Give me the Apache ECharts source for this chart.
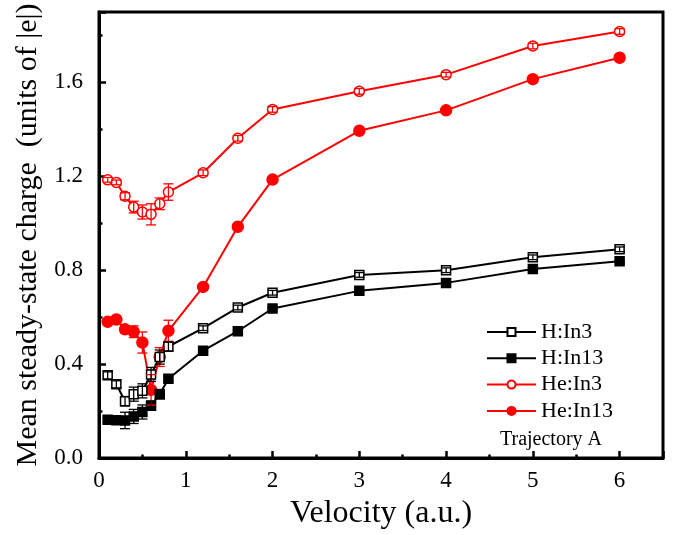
<!DOCTYPE html>
<html><head><meta charset="utf-8">
<script src="https://cdn.jsdelivr.net/npm/echarts@6/dist/echarts.min.js"></script>
<style>html,body{margin:0;padding:0;background:#fff}#c{width:675px;height:535px}</style>
</head><body><div id="c"></div>
<script>
const velocity = [0.1,0.2,0.3,0.4,0.5,0.6,0.7,0.8,1.2,1.6,2,3,4,5,6];
const hIn3     = [0.352,0.314,0.242,0.272,0.286,0.356,0.430,0.475,0.553,0.641,0.704,0.780,0.800,0.855,0.889];
const hIn3Err  = [0.015,0.015,0.020,0.030,0.030,0.030,0.030,0.020,0.010,0.010,0.010,0.010,0.010,0.010,0.010];
const hIn13    = [0.163,0.161,0.160,0.177,0.196,0.223,0.272,0.338,0.457,0.540,0.637,0.712,0.746,0.805,0.838];
const hIn13Err = [0.010,0.010,0.035,0.030,0.030,0.020,0.020,0.010,0.005,0.005,0.005,0.005,0.005,0.005,0.005];
const heIn3    = [1.185,1.174,1.115,1.069,1.048,1.038,1.083,1.133,1.215,1.362,1.485,1.562,1.633,1.755,1.817];
const heIn3Err = [0.010,0.010,0.015,0.025,0.030,0.045,0.025,0.035,0.012,0.012,0.012,0.012,0.010,0.012,0.012];
const heIn13   = [0.580,0.590,0.548,0.538,0.492,0.290,0.430,0.542,0.729,0.985,1.186,1.394,1.481,1.614,1.705];
const heIn13Err= [0.010,0.010,0.015,0.025,0.045,0.065,0.040,0.045,0.010,0.010,0.010,0.010,0.010,0.010,0.010];
const xTicks = [0,1,2,3,4,5,6];
const yTicks = [0.0,0.4,0.8,1.2,1.6];

const FONT = 'Liberation Serif';
const chart = echarts.init(document.getElementById('c'));

function pts(ys){ return velocity.map((v,i)=>[v, ys[i]]); }
function errData(ys, es){ return velocity.map((v,i)=>[v, ys[i]-es[i], ys[i]+es[i]]); }
function errSeries(ys, es, color){
  return {
    type:'custom', z:5, silent:true, data: errData(ys, es),
    renderItem: function(params, api){
      const lo = api.coord([api.value(0), api.value(1)]);
      const hi = api.coord([api.value(0), api.value(2)]);
      const w = 5;
      const st = {stroke:color, lineWidth:1.3};
      return {type:'group', children:[
        {type:'line', shape:{x1:lo[0], y1:lo[1], x2:hi[0], y2:hi[1]}, style:st},
        {type:'line', shape:{x1:lo[0]-w, y1:lo[1], x2:lo[0]+w, y2:lo[1]}, style:st},
        {type:'line', shape:{x1:hi[0]-w, y1:hi[1], x2:hi[0]+w, y2:hi[1]}, style:st}
      ]};
    }
  };
}
function lineSeries(name, ys, color, symbol, filled, size){
  return {
    name, type:'line', data: pts(ys), symbol, symbolSize:size, z:3,
    lineStyle:{color, width:2},
    itemStyle:{color: filled ? color : '#fff', borderColor: color, borderWidth:1.5, opacity:1},
    emphasis:{disabled:true}, animation:false
  };
}

const baseAxisLabel = {fontFamily:FONT, fontSize:23, color:'#000'};
const option = {
  animation:false,
  grid:{left:99, right:12, top:12, bottom:70, show:true, borderColor:'#000', borderWidth:3, backgroundColor:'transparent'},
  xAxis:[
    {type:'value', min:0, max:6.5, interval:1, position:'bottom',
     name:'Velocity (a.u.)', nameLocation:'middle', nameGap:40,
     nameTextStyle:{fontFamily:FONT, fontSize:32, color:'#000'},
     axisLine:{show:true, lineStyle:{color:'#000', width:3}},
     axisTick:{show:true, inside:true, length:7, lineStyle:{color:'#000', width:2.5}},
     axisLabel:Object.assign({margin:11, formatter:v=> xTicks.includes(v) ? String(v) : ''}, baseAxisLabel),
     splitLine:{show:false}},
    {type:'value', min:0, max:6.5, interval:0.5, position:'bottom', gridIndex:0,
     axisLine:{show:false}, axisLabel:{show:false}, splitLine:{show:false},
     axisTick:{show:true, inside:true, length:3.5, lineStyle:{color:'#000', width:2.5}}}
  ],
  yAxis:[
    {type:'value', min:0, max:1.9, interval:0.4, position:'left',
     name:'Mean steady-state charge  (units of |e|)', nameLocation:'middle', nameGap:56,
     nameTextStyle:{fontFamily:FONT, fontSize:30, color:'#000'},
     axisLine:{show:true, lineStyle:{color:'#000', width:3}},
     axisTick:{show:true, inside:true, length:7, lineStyle:{color:'#000', width:2.5}},
     axisLabel:Object.assign({margin:16, formatter:v=> yTicks.some(t=>Math.abs(t-v)<1e-9) ? v.toFixed(1) : ''}, baseAxisLabel),
     splitLine:{show:false}},
    {type:'value', min:0, max:1.9, interval:0.2, position:'left',
     axisLine:{show:false}, axisLabel:{show:false}, splitLine:{show:false},
     axisTick:{show:true, inside:true, length:3.5, lineStyle:{color:'#000', width:2.5}}}
  ],
  legend:{
    orient:'vertical', left:481, top:316, itemWidth:49, itemHeight:10, itemGap:4.3,
    data:['H:In3','H:In13','He:In3','He:In13'],
    textStyle:{fontFamily:FONT, fontSize:22, color:'#000', lineHeight:22}
  },
  graphic:[{type:'text', left:500, top:430, style:{text:'Trajectory A', font:'20px "Liberation Serif"', fill:'#000'}}],
  series:[
    lineSeries('He:In13', heIn13, '#ff0000', 'circle', true, 11),
    errSeries(heIn13, heIn13Err, '#ff0000'),
    lineSeries('He:In3', heIn3, '#ff0000', 'circle', false, 10),
    errSeries(heIn3, heIn3Err, '#ff0000'),
    lineSeries('H:In13', hIn13, '#000000', 'rect', true, 9),
    errSeries(hIn13, hIn13Err, '#000000'),
    lineSeries('H:In3', hIn3, '#000000', 'rect', false, 9),
    errSeries(hIn3, hIn3Err, '#000000')
  ]
};
chart.setOption(option);
</script>
</body></html>
